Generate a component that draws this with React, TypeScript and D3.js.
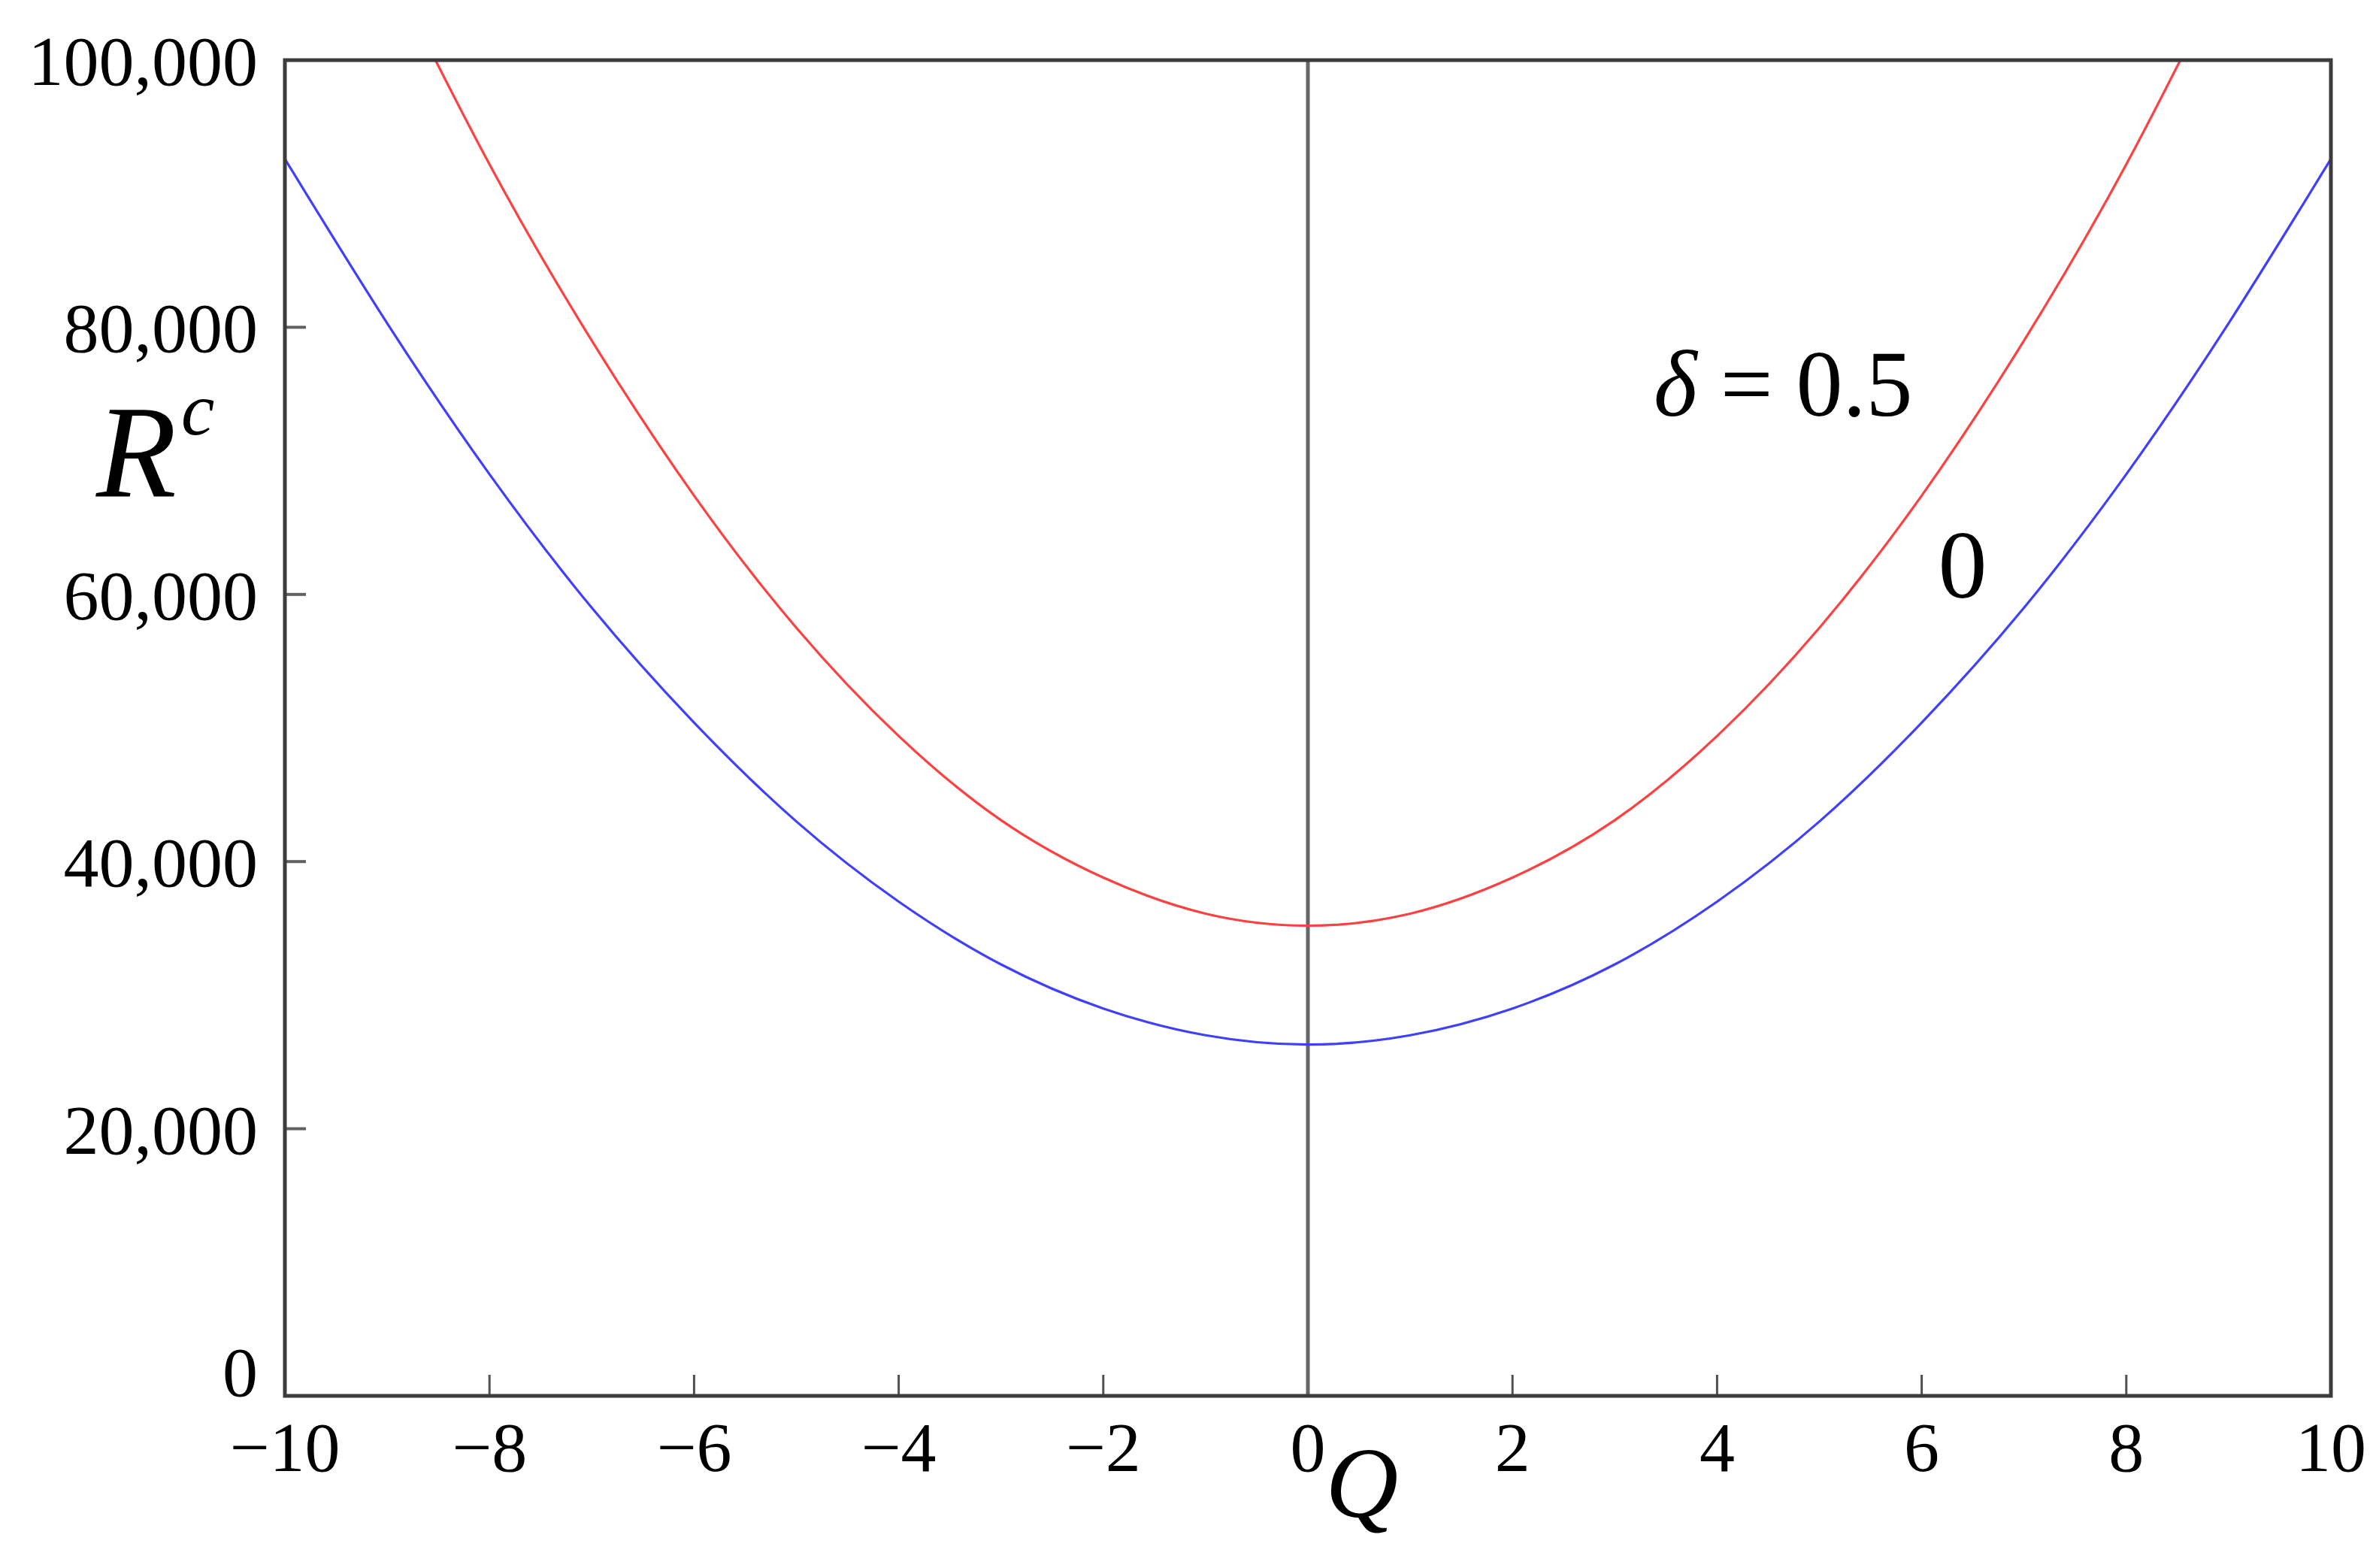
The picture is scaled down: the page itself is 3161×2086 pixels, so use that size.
import React from "react";
import * as d3 from "d3";

// Q values (x axis)
const qBlue = [-10, -9, -8, -7, -6, -5, -4, -3, -2, -1, 0, 1, 2, 3, 4, 5, 6, 7, 8, 9, 10];
// R^c for delta = 0 (blue)
const rcDelta0 = [92600, 80300, 69000, 59000, 50400, 43000, 37000, 32300, 29000, 27000, 26300, 27000, 29000, 32300, 37000, 43000, 50400, 59000, 69000, 80300, 92600];
const qRed = [-9, -8, -7, -6, -5, -4, -3, -2, -1, 0, 1, 2, 3, 4, 5, 6, 7, 8, 9];
// R^c for delta = 0.5 (red)
const rcDelta05 = [107200, 92200, 79000, 67400, 57500, 49400, 43100, 38800, 36100, 35200, 36100, 38800, 43100, 49400, 57500, 67400, 79000, 92200, 107200];

const yTicks = [0, 20000, 40000, 60000, 80000, 100000];
const xTicks = [-10, -8, -6, -4, -2, 0, 2, 4, 6, 8, 10];

const W = 3161;
const H = 2086;
const L = 379, R = 3101, T = 80, B = 1857;

export default function App() {
  const x = d3.scaleLinear().domain([-10, 10]).range([L, R]);
  const y = d3.scaleLinear().domain([0, 100000]).range([B, T]);
  const line = d3
    .line<[number, number]>()
    .x((d) => x(d[0]))
    .y((d) => y(d[1]))
    .curve(d3.curveNatural);
  const blue = line(qBlue.map((q, i) => [q, rcDelta0[i]] as [number, number])) || "";
  const red = line(qRed.map((q, i) => [q, rcDelta05[i]] as [number, number])) || "";
  const fy = d3.format(",");
  const fx = d3.format("");
  const font = "'Liberation Serif', 'Times New Roman', serif";

  return (
    <>
      <style>{`body{margin:0;background:#fff}`}</style>
      <svg width={W} height={H} style={{ display: "block" }} fontFamily={font}>
        <rect x={0} y={0} width={W} height={H} fill="#fff" />
        <defs>
          <clipPath id="plot">
            <rect x={L} y={T} width={R - L} height={B - T} />
          </clipPath>
        </defs>
        {/* zero line */}
        <line x1={x(0)} x2={x(0)} y1={T} y2={B} stroke="#666" strokeWidth={5} />
        {/* y ticks (inward) */}
        {yTicks.filter((t) => t > 0 && t < 100000).map((t) => (
          <line key={"yt" + t} x1={L} x2={L + 28} y1={y(t)} y2={y(t)} stroke="#606060" strokeWidth={4} />
        ))}
        {/* x ticks (inward) */}
        {xTicks.filter((t) => t !== 0 && Math.abs(t) !== 10).map((t) => (
          <line key={"xt" + t} x1={x(t)} x2={x(t)} y1={B} y2={B - 28} stroke="#505050" strokeWidth={3} />
        ))}
        {/* curves */}
        <g clipPath="url(#plot)">
          <path d={blue} fill="none" stroke="#3f3fff" strokeWidth={3.2} />
          <path d={red} fill="none" stroke="#ff4040" strokeWidth={3.2} />
        </g>
        {/* frame */}
        <rect x={L} y={T} width={R - L} height={B - T} fill="none" stroke="#3c3c3c" strokeWidth={5} />
        {/* y tick labels */}
        {yTicks.map((t) => (
          <text key={"yl" + t} x={343} y={y(t)} dy={t === 0 ? "0em" : "0.35em"} textAnchor="end" fontSize={94} fill="#000">
            {fy(t)}
          </text>
        ))}
        {/* x tick labels */}
        {xTicks.map((t) => (
          <text key={"xl" + t} x={x(t)} y={1957} textAnchor="middle" fontSize={94} fill="#000">
            {fx(t)}
          </text>
        ))}
        {/* axis titles */}
        <text x={128} y={661} fontSize={175} fontStyle="italic" fill="#000">
          R
          <tspan fontSize={100} dy={-83} dx={6}>c</tspan>
        </text>
        <text x={1812} y={2018} fontSize={134} fontStyle="italic" textAnchor="middle" fill="#000">
          Q
        </text>
        {/* curve labels */}
        <text x={2200} y={553} fontSize={124} fill="#000">
          <tspan fontStyle="italic">δ</tspan>
          <tspan> = 0.5</tspan>
        </text>
        <text x={2611} y={795} fontSize={130} textAnchor="middle" fill="#000">
          0
        </text>
      </svg>
    </>
  );
}
